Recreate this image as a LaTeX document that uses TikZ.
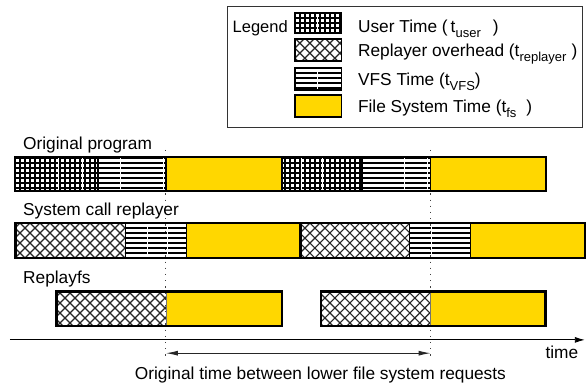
\documentclass[tikz,border=0pt]{standalone}
\usepackage{fontspec}
\setmainfont{Liberation Sans}
\usetikzlibrary{patterns,arrows.meta}

% fill patterns for the time categories
\pgfdeclarepatternformonly{usergrid}{\pgfqpoint{0pt}{0pt}}{\pgfqpoint{5pt}{5pt}}{\pgfqpoint{5pt}{5pt}}{%
  \pgfpathrectangle{\pgfqpoint{0pt}{0pt}}{\pgfqpoint{5pt}{2pt}}%
  \pgfpathrectangle{\pgfqpoint{0pt}{0pt}}{\pgfqpoint{2pt}{5pt}}%
  \pgfusepath{fill}}
\pgfdeclarepatternformonly{vfslines}{\pgfqpoint{0pt}{0pt}}{\pgfqpoint{5pt}{5pt}}{\pgfqpoint{5pt}{5pt}}{%
  \pgfpathrectangle{\pgfqpoint{0pt}{0pt}}{\pgfqpoint{5pt}{1.8pt}}%
  \pgfusepath{fill}}
\pgfdeclarepatternformonly{xhatch}{\pgfqpoint{-1pt}{-1pt}}{\pgfqpoint{11pt}{11pt}}{\pgfqpoint{10pt}{10pt}}{%
  \pgfsetlinewidth{1.2pt}%
  \pgfpathmoveto{\pgfqpoint{0pt}{0pt}}\pgfpathlineto{\pgfqpoint{10pt}{10pt}}%
  \pgfpathmoveto{\pgfqpoint{0pt}{10pt}}\pgfpathlineto{\pgfqpoint{10pt}{0pt}}%
  \pgfusepath{stroke}}

\definecolor{fsyellow}{RGB}{255,215,0}
\newcommand\tsub[1]{\raisebox{-5pt}{\fontsize{13}{13}\selectfont #1}}

\begin{document}
\begin{tikzpicture}[x=1pt,y=-1pt,
  lbl/.style={inner sep=0pt,anchor=base west,font=\fontsize{17.3}{20}\selectfont},
  usertime/.style={pattern=usergrid,pattern color=black},
  replay/.style={pattern=xhatch,pattern color=black!85},
  vfs/.style={pattern=vfslines,pattern color=black},
  fstime/.style={fill=fsyellow},
  thin/.style={draw=black,line width=0.9pt},
  mid/.style={draw=black,line width=1.6pt},
  outer/.style={draw=black,line width=2.4pt},
  seam/.style={white,line width=0.9pt},
  guide/.style={black!75,line width=0.9pt,dash pattern=on 1.2pt off 5pt}]

\fill[white] (0,0) rectangle (586,383);

% legend
\draw[black!80,line width=1pt] (228,7) rectangle (583,128);
\node[lbl,anchor=base east,font=\fontsize{16.5}{20}\selectfont] (legtitle) at (288,32.5) {Legend};
\path[usertime] (295,13) rectangle (342,33);
\draw[seam] (318,13) -- (318,33);
\draw[black,line width=1.2pt] (295,13) rectangle (342,33);
\path[replay] (295,39) rectangle (342,61);
\draw[black,line width=1.2pt] (295,39) rectangle (342,61);
\path[vfs] (295,68) rectangle (342,90);
\draw[seam] (318,68) -- (318,90);
\draw[black,line width=1.2pt] (295,68) rectangle (342,90);
\path[fstime] (295,95) rectangle (342,117);
\draw[black,line width=1.2pt] (295,95) rectangle (342,117);
\node[lbl] (leguser) at (358,33) {User Time (\hspace{3pt}t\tsub{user}\hspace{12pt})};
\node[lbl] (legreplay) at (358,57) {Replayer overhead (t\tsub{replayer}\hspace{5pt})};
\node[lbl] (legvfs) at (358,86) {VFS Time (t\tsub{VFS})};
\node[lbl] (legfs) at (358,113) {File System Time (t\tsub{fs}\hspace{10pt})};

% guide lines marking the original request times
\coordinate (g1top) at (166,150);
\coordinate (g1bot) at (166,357);
\coordinate (g2top) at (430.7,150);
\coordinate (g2bot) at (430.7,357);
\draw[guide] (g1top) -- (g1bot);
\draw[guide] (g2top) -- (g2bot);

% row 1: original program
\node[lbl] (rowone) at (23,149.5) {Original program};
\path[usertime,mid] (15,157) rectangle (98,191);
\path[vfs,mid] (98,157) rectangle (166,191);
\path[fstime,mid] (166,157) rectangle (282,191);
\path[usertime,mid] (282,157) rectangle (362,191);
\path[vfs,mid] (362,157) rectangle (430.7,191);
\path[fstime,mid] (430.7,157) rectangle (546,191);
\foreach \sx in {58,82,302,323,120,164,405,428}
  \draw[seam] (\sx,158.5) -- (\sx,189.5);
\draw[outer] (15,157) rectangle (546,191);

% row 2: system call replayer
\node[lbl] (rowtwo) at (23,215.7) {System call replayer};
\path[replay,thin] (15.7,223.3) rectangle (125,258.3);
\path[vfs,thin] (125,223.3) rectangle (186.7,258.3);
\path[fstime,thin] (186.7,223.3) rectangle (300.7,258.3);
\path[replay,thin] (300.7,223.3) rectangle (410,258.3);
\path[vfs,thin] (410,223.3) rectangle (471,258.3);
\path[fstime,thin] (471,223.3) rectangle (585,258.3);
\foreach \sx in {147,168,432}
  \draw[seam] (\sx,224.5) -- (\sx,257);
\draw[outer] (300.7,223.3) -- (300.7,258.3);
\draw[outer] (15.7,223.3) rectangle (585,258.3);

% row 3: replayfs
\node[lbl] (rowthree) at (23,284) {Replayfs};
\path[replay] (56.7,291.7) rectangle (166,326);
\path[fstime] (166,291.7) rectangle (282,326);
\draw[black!55,line width=0.8pt] (166,291.7) -- (166,326);
\draw[outer] (56.7,291.7) rectangle (282,326);
\path[replay] (321,291.7) rectangle (430.7,326);
\path[fstime] (430.7,291.7) rectangle (545.7,326);
\draw[black!55,line width=0.8pt] (430.7,291.7) -- (430.7,326);
\draw[outer] (321,291.7) rectangle (545.7,326);

% time axis
\coordinate (axstart) at (10,340);
\coordinate (axend) at (585,340);
\draw[line width=0.9pt,-{Latex[length=10pt,width=6pt]}] (axstart) -- (axend);
\node[lbl] (timelbl) at (545.5,359) {time};

% original gap between lower file system requests
\coordinate (gapl) at (166,353.3);
\coordinate (gapr) at (430.7,353.3);
\draw[black!85,line width=0.9pt,{Latex[length=12pt,width=5pt]}-{Latex[length=12pt,width=5pt]}] (gapl) -- (gapr);
\node[lbl,anchor=base] (gaplbl) at (320.5,379.5) {Original time between lower file system requests};
\end{tikzpicture}
\end{document}
